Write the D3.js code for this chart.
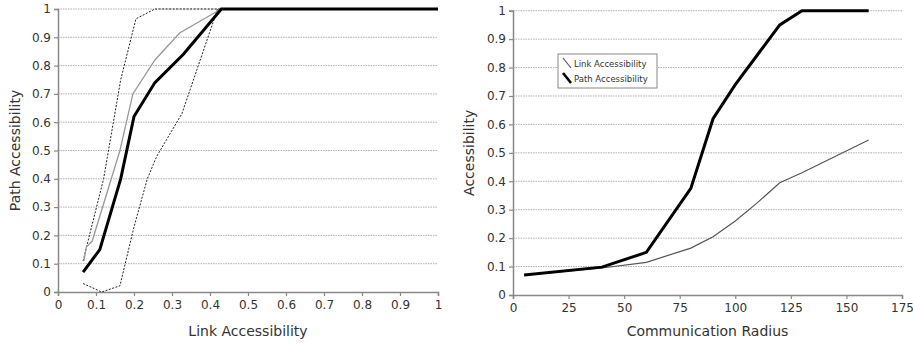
<!DOCTYPE html>
<html>
<head>
<meta charset="utf-8">
<script src="https://cdnjs.cloudflare.com/ajax/libs/d3/7.8.5/d3.min.js"></script>
<style>
  body { margin: 0; background: #fff; }
  text { font-family: "DejaVu Sans", sans-serif; fill: #333; }
</style>
</head>
<body>
<script>
// left panel: path accessibility vs link accessibility
const pathMeanX = [0.066, 0.11, 0.165, 0.2, 0.255, 0.33, 0.43, 1.0];
const pathMeanY = [0.07, 0.15, 0.40, 0.62, 0.74, 0.84, 1.0, 1.0];
const graySolidX = [0.068, 0.075, 0.09, 0.163, 0.197, 0.255, 0.32, 0.41, 0.43];
const graySolidY = [0.11, 0.16, 0.18, 0.50, 0.70, 0.82, 0.915, 0.985, 1.0];
const upperX = [0.066, 0.12, 0.165, 0.205, 0.255, 0.43];
const upperY = [0.11, 0.40, 0.75, 0.965, 1.0, 1.0];
const lowerX = [0.066, 0.115, 0.163, 0.2, 0.235, 0.26, 0.326, 0.42];
const lowerY = [0.03, 0.0, 0.022, 0.23, 0.40, 0.48, 0.63, 1.0];

// right panel: accessibility vs communication radius
const radius = [5, 40, 60, 80, 90, 100, 110, 120, 130, 160];
const linkAcc = [0.07, 0.095, 0.115, 0.165, 0.205, 0.26, 0.325, 0.395, 0.43, 0.545];
const pathAcc = [0.07, 0.098, 0.15, 0.375, 0.62, 0.74, 0.845, 0.95, 1.0, 1.0];
const legendLabels = ["Link Accessibility", "Path Accessibility"];

const yTicks = d3.range(0, 11).map(i => i / 10);
const leftXTicks = yTicks;
const rightXTicks = [0, 25, 50, 75, 100, 125, 150, 175];

const svg = d3.select("body").append("svg")
    .attr("width", 913)
    .attr("height", 346);

const fmt = d3.format("~g");

function panel(x, y, xTicks, xTitle, yTitle, titleX) {
    const g = svg.append("g");
    // dotted grid
    g.selectAll(".grid")
        .data(yTicks.slice(1))
        .enter()
        .append("line")
        .attr("x1", x.range()[0])
        .attr("x2", x.range()[1])
        .attr("y1", d => y(d))
        .attr("y2", d => y(d))
        .attr("stroke", "#b0b0b0")
        .attr("stroke-width", 1)
        .attr("stroke-dasharray", "1.5,1");

    const yAxis = g.append("g")
        .attr("transform", `translate(${x.range()[0]},0)`)
        .call(d3.axisLeft(y).tickValues(yTicks).tickFormat(fmt).tickSize(4).tickPadding(3));
    const xAxis = g.append("g")
        .attr("transform", `translate(0,${y.range()[0]})`)
        .call(d3.axisBottom(x).tickValues(xTicks).tickFormat(fmt).tickSize(4).tickPadding(4));
    [yAxis, xAxis].forEach(a => {
        a.select(".domain").attr("stroke", "#888").attr("stroke-width", 1.5);
        a.selectAll(".tick line").attr("stroke", "#888").attr("stroke-width", 1.2);
        a.selectAll(".tick text").style("font-size", "12px").attr("fill", "#2a2a2a");
    });

    g.append("text")
        .attr("x", (x.range()[0] + x.range()[1]) / 2)
        .attr("y", 336)
        .attr("text-anchor", "middle")
        .style("font-size", "14px")
        .attr("fill", "#222")
        .text(xTitle);
    g.append("text")
        .attr("transform", `translate(${titleX},${(y.range()[0] + y.range()[1]) / 2}) rotate(-90)`)
        .attr("text-anchor", "middle")
        .style("font-size", "14px")
        .attr("fill", "#222")
        .text(yTitle);
    return g;
}

// left panel
const xL = d3.scaleLinear().domain([0, 1]).range([58, 438]);
const yL = d3.scaleLinear().domain([0, 1]).range([292, 9]);
const gL = panel(xL, yL, leftXTicks, "Link Accessibility", "Path Accessibility", 20);

const lineL = (xs, ys) => d3.line().x((d, i) => xL(xs[i])).y(d => yL(d))(ys);

gL.append("path").attr("d", lineL(upperX, upperY))
    .attr("fill", "none").attr("stroke", "#222").attr("stroke-width", 1).attr("stroke-dasharray", "2,1.5");
gL.append("path").attr("d", lineL(lowerX, lowerY))
    .attr("fill", "none").attr("stroke", "#222").attr("stroke-width", 1).attr("stroke-dasharray", "2,1.5");
gL.append("path").attr("d", lineL(graySolidX, graySolidY))
    .attr("fill", "none").attr("stroke", "#999").attr("stroke-width", 1.3);
gL.append("path").attr("d", lineL(pathMeanX, pathMeanY))
    .attr("fill", "none").attr("stroke", "#000").attr("stroke-width", 3);

// right panel
const xR = d3.scaleLinear().domain([0, 175]).range([513, 902]);
const yR = d3.scaleLinear().domain([0, 1]).range([295, 10.7]);
const gR = panel(xR, yR, rightXTicks, "Communication Radius", "Accessibility", 474);

const lineR = ys => d3.line().x((d, i) => xR(radius[i])).y(d => yR(d))(ys);

gR.append("path").attr("d", lineR(linkAcc))
    .attr("fill", "none").attr("stroke", "#555").attr("stroke-width", 1.2);
gR.append("path").attr("d", lineR(pathAcc))
    .attr("fill", "none").attr("stroke", "#000").attr("stroke-width", 3);

// legend
const legend = gR.append("g").attr("transform", "translate(558,54)");
legend.append("rect")
    .attr("width", 99).attr("height", 34)
    .attr("fill", "#fff").attr("stroke", "#888").attr("stroke-width", 1);
legendLabels.forEach((label, i) => {
    const yy = 4 + i * 15;
    legend.append("line")
        .attr("x1", 5).attr("y1", yy).attr("x2", 13).attr("y2", yy + 10)
        .attr("stroke", i === 0 ? "#555" : "#000")
        .attr("stroke-width", i === 0 ? 1.2 : 2.6);
    legend.append("text")
        .attr("x", 16).attr("y", yy + 9)
        .style("font-size", "8.5px")
        .attr("fill", "#222")
        .text(label);
});
</script>
</body>
</html>
